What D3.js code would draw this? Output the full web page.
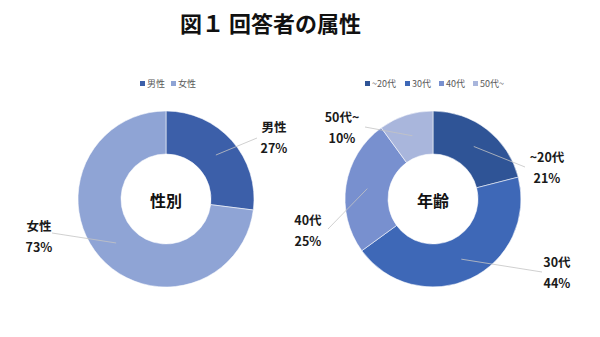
<!DOCTYPE html>
<html>
<head>
<meta charset="utf-8">
<script src="https://cdn.jsdelivr.net/npm/d3@7"></script>
<style>
  html, body { margin: 0; padding: 0; background: #fff; }
  svg { display: block; font-family: "Noto Sans CJK JP", "Noto Sans", sans-serif; }
</style>
</head>
<body>
<svg id="chart" width="600" height="337"></svg>
<script>
// Respondent attributes
const genderLabels = ["男性", "女性"];
const genderValues = [27, 73];
const genderColors = ["#3c5fa9", "#8fa4d5"];

const ageLabels = ["~20代", "30代", "40代", "50代~"];
const ageValues = [21, 44, 25, 10];
const ageColors = ["#2f5496", "#3e68b7", "#7890cf", "#a9b6dc"];

const svg = d3.select("#chart");

svg.append("text")
  .attr("x", 180).attr("y", 32)
  .attr("font-size", 22).attr("font-weight", "bold").attr("fill", "#111")
  .text("図１ 回答者の属性");

const outerR = 88, innerR = 45;
const arc = d3.arc().innerRadius(innerR).outerRadius(outerR);
const pie = d3.pie().sort(null).value(d => d.value);

function donut(opts) {
  const data = opts.labels.map((l, i) => ({ label: l, value: opts.values[i], color: opts.colors[i] }));
  const g = svg.append("g").attr("transform", `translate(${opts.cx},${opts.cy})`);
  const arcs = pie(data);

  g.selectAll("path.seg").data(arcs).join("path")
    .attr("class", "seg")
    .attr("d", arc)
    .attr("fill", d => d.data.color)
    .attr("stroke", "rgba(255,255,255,0.55)")
    .attr("stroke-width", 1);

  // leader lines from each segment centroid to its label
  g.selectAll("line.lead").data(arcs).join("line")
    .attr("class", "lead")
    .attr("x1", d => arc.centroid(d)[0])
    .attr("y1", d => arc.centroid(d)[1])
    .attr("x2", (d, i) => opts.lineEnds[i][0] - opts.cx)
    .attr("y2", (d, i) => opts.lineEnds[i][1] - opts.cy)
    .attr("stroke", "#c4c4c4").attr("stroke-width", 0.8);

  arcs.forEach((d, i) => {
    const [lx, ly] = opts.labelPos[i];
    const t = svg.append("text")
      .attr("text-anchor", "middle")
      .attr("font-size", 12.5).attr("font-weight", "bold").attr("fill", "#1a1a1a");
    t.append("tspan").attr("x", lx).attr("y", ly).text(d.data.label);
    t.append("tspan").attr("x", lx).attr("y", ly + 21).text(d.data.value + "%");
  });

  svg.append("text")
    .attr("x", opts.cx).attr("y", opts.cy + 8)
    .attr("text-anchor", "middle")
    .attr("font-size", 16).attr("font-weight", "bold").attr("fill", "#111")
    .text(opts.title);

  // legend
  const lg = svg.append("g");
  data.forEach((d, i) => {
    const x = opts.legendX[i];
    lg.append("rect").attr("x", x).attr("y", 81).attr("width", 5).attr("height", 5).attr("fill", d.color);
    lg.append("text").attr("x", x + 7).attr("y", 87)
      .attr("font-size", 9).attr("fill", "#595959").text(d.label);
  });
}

donut({
  labels: genderLabels, values: genderValues, colors: genderColors,
  cx: 166, cy: 199, title: "性別",
  lineEnds: [[257, 138], [52, 233]],
  labelPos: [[274, 132], [39, 231]],
  legendX: [140, 171]
});

donut({
  labels: ageLabels, values: ageValues, colors: ageColors,
  cx: 433, cy: 199, title: "年齢",
  lineEnds: [[525, 167], [542, 272], [328, 229], [365, 127]],
  labelPos: [[547, 162], [557, 267], [308, 225], [342, 122]],
  legendX: [365, 405, 439, 473]
});
</script>
</body>
</html>
